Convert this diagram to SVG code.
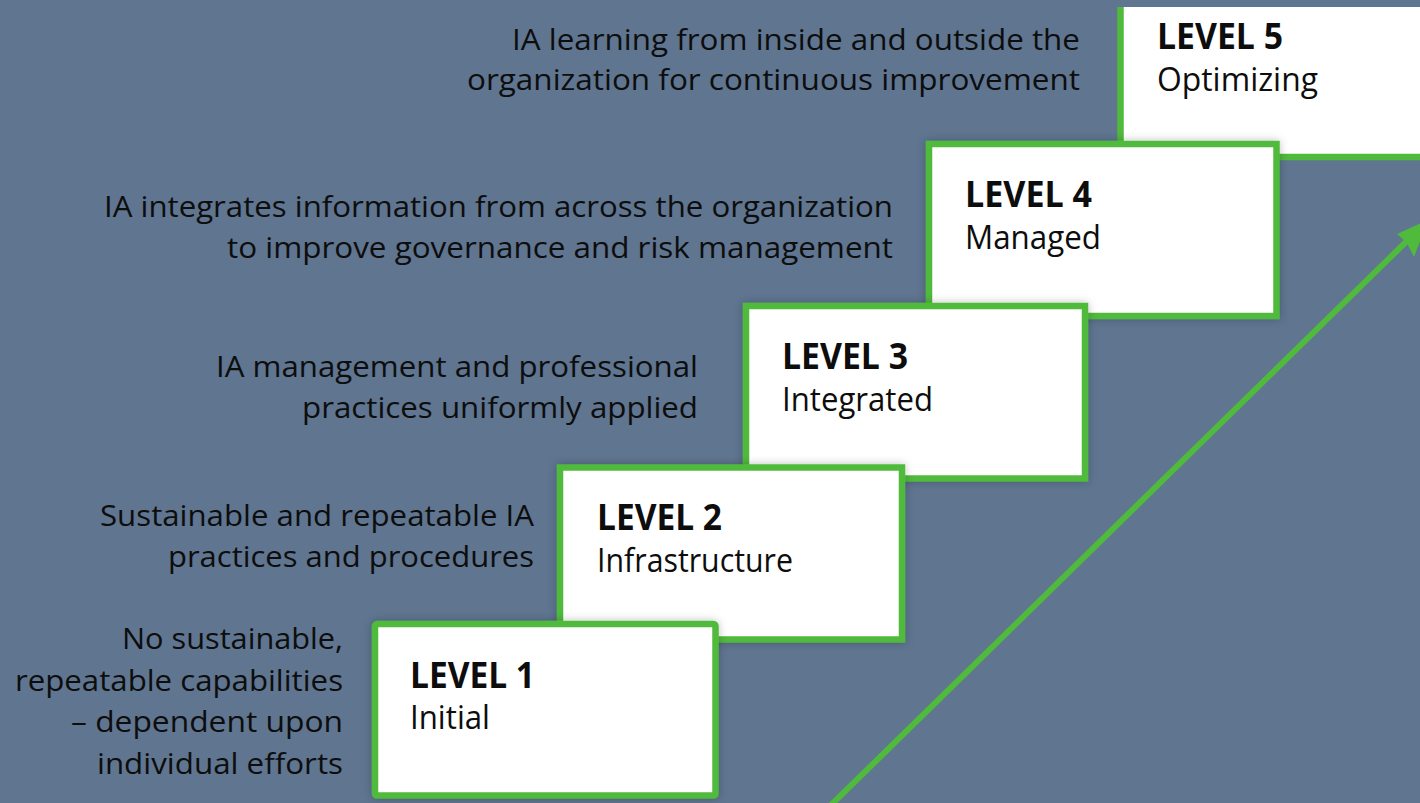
<svg xmlns="http://www.w3.org/2000/svg" width="1420" height="803" viewBox="0 0 1420 803">
  <defs>
    <style>
      .bg { fill: #5f7590; }
      .box { fill: #ffffff; stroke: #4fba3b; stroke-width: 6.5; }
      .desc { font-family: "Open Sans", "Noto Sans", sans-serif; font-size: 29.5px; fill: #0d0d0d; text-anchor: end; }
      .title { font-family: "Open Sans", "Noto Sans", sans-serif; font-size: 35px; font-weight: bold; fill: #0d0d0d; }
      .sub { font-family: "Open Sans", "Noto Sans", sans-serif; font-size: 33px; fill: #0d0d0d; }
    </style>
    <filter id="sh" x="-10%" y="-10%" width="120%" height="120%">
      <feDropShadow dx="0" dy="0" stdDeviation="4" flood-color="#000" flood-opacity="0.25"/>
    </filter>
  </defs>
  <rect class="bg" x="0" y="0" width="1420" height="803"/>

  <g id="level5">
    <rect x="1120.5" y="7" width="310" height="150" fill="#ffffff"/>
    <path d="M1120.5 7 V157 H1425" fill="none" stroke="#4fba3b" stroke-width="6.5"/>
    <text class="title" x="1157" y="49" textLength="126" lengthAdjust="spacingAndGlyphs">LEVEL 5</text>
    <text class="sub" x="1157" y="91" textLength="161" lengthAdjust="spacingAndGlyphs">Optimizing</text>
  </g>
  <g id="desc5">
    <text class="desc" x="1080" y="50" textLength="568" lengthAdjust="spacingAndGlyphs">IA learning from inside and outside the</text>
    <text class="desc" x="1080" y="90" textLength="613" lengthAdjust="spacingAndGlyphs">organization for continuous improvement</text>
  </g>

  <g id="level4">
    <rect class="box" x="929" y="144" width="347.5" height="172" filter="url(#sh)"/>
    <text class="title" x="965" y="207" textLength="127" lengthAdjust="spacingAndGlyphs">LEVEL 4</text>
    <text class="sub" x="965" y="249" textLength="136" lengthAdjust="spacingAndGlyphs">Managed</text>
  </g>
  <g id="desc4">
    <text class="desc" x="893" y="217" textLength="789" lengthAdjust="spacingAndGlyphs">IA integrates information from across the organization</text>
    <text class="desc" x="893" y="258" textLength="666" lengthAdjust="spacingAndGlyphs">to improve governance and risk management</text>
  </g>

  <g id="level3">
    <rect class="box" x="746" y="306" width="339" height="172.5" filter="url(#sh)"/>
    <text class="title" x="782" y="369" textLength="126" lengthAdjust="spacingAndGlyphs">LEVEL 3</text>
    <text class="sub" x="782" y="411" textLength="151" lengthAdjust="spacingAndGlyphs">Integrated</text>
  </g>
  <g id="desc3">
    <text class="desc" x="698" y="377" textLength="482" lengthAdjust="spacingAndGlyphs">IA management and professional</text>
    <text class="desc" x="698" y="418" textLength="396" lengthAdjust="spacingAndGlyphs">practices uniformly applied</text>
  </g>

  <g id="level2">
    <rect class="box" x="560" y="467.5" width="342" height="172" filter="url(#sh)"/>
    <text class="title" x="597" y="530" textLength="125" lengthAdjust="spacingAndGlyphs">LEVEL 2</text>
    <text class="sub" x="597" y="572" textLength="196" lengthAdjust="spacingAndGlyphs">Infrastructure</text>
  </g>
  <g id="desc2">
    <text class="desc" x="534" y="526" textLength="434" lengthAdjust="spacingAndGlyphs">Sustainable and repeatable IA</text>
    <text class="desc" x="534" y="567" textLength="366" lengthAdjust="spacingAndGlyphs">practices and procedures</text>
  </g>

  <g id="level1">
    <rect class="box" x="375" y="624" width="340.5" height="171.5" rx="2" filter="url(#sh)"/>
    <text class="title" x="410" y="688" textLength="125" lengthAdjust="spacingAndGlyphs">LEVEL 1</text>
    <text class="sub" x="410" y="729" textLength="80" lengthAdjust="spacingAndGlyphs">Initial</text>
  </g>
  <g id="desc1">
    <text class="desc" x="343" y="649" textLength="221" lengthAdjust="spacingAndGlyphs">No sustainable,</text>
    <text class="desc" x="343" y="691" textLength="328" lengthAdjust="spacingAndGlyphs">repeatable capabilities</text>
    <text class="desc" x="343" y="732" textLength="272" lengthAdjust="spacingAndGlyphs">– dependent upon</text>
    <text class="desc" x="343" y="774" textLength="246" lengthAdjust="spacingAndGlyphs">individual efforts</text>
  </g>

  <g id="connectors">
    <line x1="830" y1="806" x2="1410" y2="238" stroke="#4fba3b" stroke-width="6"/>
    <polygon points="1428,220 1397,234 1407,243 1414,257" fill="#4fba3b"/>
  </g>
</svg>
